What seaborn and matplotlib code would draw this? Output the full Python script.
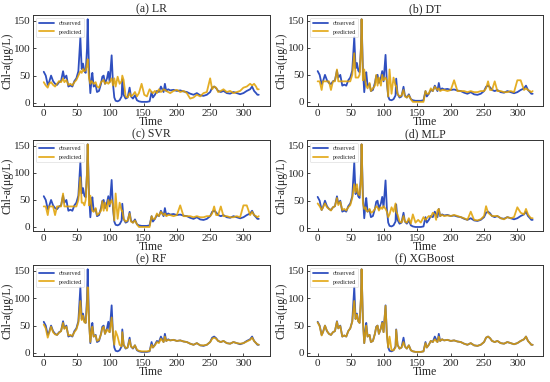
import matplotlib
matplotlib.use("Agg")
import matplotlib.pyplot as plt
import seaborn as sns
import pandas as pd

# ---------------- data ----------------
time = [0, 3, 6, 8, 11, 14, 17, 20, 23, 26,
        29, 31, 34, 37, 40, 43, 46, 49, 52, 55,
        57, 59, 61, 63, 65, 66, 68, 70, 72, 73,
        75, 78, 80, 83, 86, 88, 90, 92, 95, 97,
        99, 102, 104, 106, 108, 111, 114, 117, 118, 120,
        123, 126, 129, 131, 134, 137, 140, 143, 147, 151,
        155, 159, 162, 164, 167, 170, 173, 176, 178, 180,
        182, 184, 187, 190, 195, 200, 205, 210, 215, 220,
        225, 230, 235, 240, 245, 250, 253, 256, 259, 262,
        266, 270, 275, 280, 285, 290, 295, 300, 305, 310,
        313, 316, 319, 321, 323]

observed = [57, 50, 33, 38, 50, 40, 35, 33, 38, 40,
            58, 45, 50, 30, 32, 30, 40, 45, 58, 120,
            62, 72, 58, 55, 100, 153, 60, 18, 45, 55,
            30, 33, 20, 22, 35, 48, 50, 35, 45, 57,
            38, 87, 35, 10, 4, 3, 5, 12, 43, 15,
            8, 10, 28, 12, 8, 14, 5, 3, 2, 2,
            2, 3, 20, 10, 15, 22, 20, 30, 25, 20,
            35, 22, 25, 23, 24, 22, 23, 21, 20, 17,
            15, 18, 14, 13, 15, 20, 28, 30, 27, 22,
            20, 22, 18, 17, 20, 18, 16, 18, 22, 25,
            30, 22, 18, 15, 15]

pred_lr = [38, 32, 28, 35, 38, 33, 30, 35, 40, 38,
           45, 38, 42, 33, 35, 32, 38, 42, 50, 58,
           55, 62, 58, 60, 70, 80, 45, 35, 40, 38,
           35, 38, 30, 28, 38, 40, 42, 35, 38, 35,
           38, 45, 32, 45, 30, 48, 35, 40, 50, 42,
           12, 10, 18, 12, 15, 20, 12, 18, 35, 15,
           12, 25, 20, 18, 22, 18, 25, 20, 22, 25,
           24, 22, 20, 18, 22, 24, 20, 22, 18, 8,
           10, 15, 12, 18, 20, 45, 25, 30, 28, 20,
           22, 25, 20, 22, 18, 20, 22, 28, 30, 35,
           32, 35, 30, 25, 25]

pred_dt = [38, 38, 22, 38, 38, 38, 38, 22, 38, 38,
           60, 38, 38, 38, 38, 38, 38, 38, 50, 90,
           45, 45, 45, 50, 95, 153, 40, 60, 35, 30,
           25, 35, 20, 25, 30, 50, 30, 45, 30, 50,
           40, 45, 40, 10, 60, 15, 45, 30, 30, 15,
           10, 12, 22, 10, 8, 12, 5, 0, 0, 0,
           0, 0, 20, 15, 15, 25, 20, 28, 25, 22,
           25, 20, 22, 22, 20, 22, 40, 20, 20, 20,
           18, 20, 18, 18, 20, 20, 25, 38, 22, 22,
           38, 20, 20, 18, 18, 20, 18, 40, 40, 22,
           25, 22, 20, 18, 20]

pred_svr = [38, 38, 22, 38, 38, 38, 22, 38, 38, 38,
            62, 38, 38, 38, 38, 38, 38, 38, 50, 92,
            45, 45, 40, 50, 100, 153, 40, 58, 35, 30,
            28, 35, 22, 25, 30, 48, 30, 45, 30, 50,
            42, 50, 40, 12, 62, 15, 45, 30, 30, 15,
            10, 12, 25, 10, 8, 12, 5, 0, 0, 0,
            0, 0, 20, 15, 15, 25, 20, 28, 25, 22,
            25, 20, 22, 22, 20, 22, 40, 20, 20, 20,
            18, 20, 18, 18, 20, 20, 25, 38, 22, 22,
            38, 20, 20, 18, 18, 20, 18, 40, 40, 22,
            28, 22, 20, 18, 20]

pred_mlp = [45, 40, 33, 38, 45, 38, 35, 32, 38, 40,
            55, 42, 48, 33, 35, 32, 38, 42, 55, 80,
            65, 80, 62, 60, 85, 153, 45, 35, 38, 32,
            30, 35, 28, 30, 35, 40, 38, 32, 38, 35,
            40, 35, 30, 20, 25, 38, 30, 45, 30, 25,
            12, 10, 22, 12, 10, 18, 8, 25, 10, 15,
            10, 20, 15, 18, 22, 20, 28, 25, 15, 32,
            35, 22, 24, 22, 23, 22, 24, 22, 20, 18,
            15, 30, 15, 14, 16, 22, 40, 28, 25, 22,
            22, 22, 18, 16, 20, 18, 20, 38, 28, 25,
            35, 25, 20, 18, 18]

pred_rf = [52, 45, 28, 36, 48, 38, 34, 33, 37, 40,
           55, 44, 48, 32, 33, 31, 38, 43, 55, 95,
           60, 68, 56, 55, 88, 120, 55, 20, 40, 48,
           30, 32, 22, 24, 34, 45, 48, 35, 43, 40,
           38, 65, 35, 15, 40, 30, 15, 12, 38, 16,
           9, 10, 24, 12, 9, 14, 6, 4, 3, 3,
           3, 4, 15, 10, 14, 20, 18, 26, 23, 20,
           30, 22, 24, 23, 24, 22, 23, 21, 20, 17,
           15, 18, 14, 14, 15, 20, 26, 28, 26, 22,
           20, 22, 18, 17, 20, 18, 17, 18, 21, 24,
           28, 22, 18, 16, 15]

pred_xgb = [56, 49, 32, 38, 50, 40, 35, 33, 38, 40,
            57, 45, 49, 30, 32, 30, 40, 45, 57, 95,
            62, 70, 58, 55, 98, 153, 58, 18, 38, 50,
            30, 33, 20, 22, 35, 47, 50, 35, 45, 55,
            38, 86, 33, 10, 30, 5, 5, 10, 42, 15,
            8, 10, 20, 12, 8, 14, 5, 3, 2, 2,
            2, 3, 18, 10, 15, 22, 20, 25, 22, 20,
            30, 22, 25, 23, 24, 22, 23, 21, 20, 17,
            15, 18, 14, 13, 15, 20, 28, 30, 27, 22,
            20, 22, 18, 17, 20, 18, 16, 18, 22, 25,
            30, 22, 18, 15, 15]

titles = ["(a) LR", "(b) DT", "(c) SVR", "(d) MLP", "(e) RF", "(f) XGBoost"]
predictions = [pred_lr, pred_dt, pred_svr, pred_mlp, pred_rf, pred_xgb]

# ---------------- style ----------------
sns.set_theme(style="ticks")
plt.rcParams["font.family"] = ["Liberation Serif", "DejaVu Serif"]

obs_color = "#2f4fbf"
pred_color = "#e0a000"

fig = plt.figure(figsize=(5.5, 3.82), dpi=100)
lefts = [0.060, 0.558]
bottoms = [0.7225, 0.395, 0.068]
w, h = 0.430, 0.238

for i, (title, pred) in enumerate(zip(titles, predictions)):
    r, c = divmod(i, 2)
    ax = fig.add_axes([lefts[c], bottoms[r], w, h])
    df_obs = pd.DataFrame({"Time": time, "value": observed})
    df_pred = pd.DataFrame({"Time": time, "value": pred})
    sns.lineplot(data=df_obs, x="Time", y="value", ax=ax, color=obs_color,
                 linewidth=1.3, label="observed")
    sns.lineplot(data=df_pred, x="Time", y="value", ax=ax, color=pred_color,
                 linewidth=1.3, alpha=0.85, label="predicted")
    ax.set_title(title, fontsize=8.5, pad=2)
    ax.set_xlabel("Time", fontsize=8.5, labelpad=-1)
    ax.set_ylabel("Chl-a(μg/L)", fontsize=8.5, labelpad=0)
    ax.set_xticks([0, 50, 100, 150, 200, 250, 300])
    ax.set_yticks([0, 50, 100, 150])
    ax.tick_params(direction="in", labelsize=8, length=2.5, width=0.6, pad=2)
    for s in ax.spines.values():
        s.set_linewidth(0.7)
        s.set_color("#333333")
    leg = ax.legend(loc="upper left", fontsize=4.5, frameon=True,
                    handlelength=2.4, borderpad=0.4, labelspacing=0.5,
                    fancybox=True)
    leg.get_frame().set_linewidth(0.4)
    ax.margins(x=0.05, y=0.05)

fig.savefig("out.png", dpi=100)
